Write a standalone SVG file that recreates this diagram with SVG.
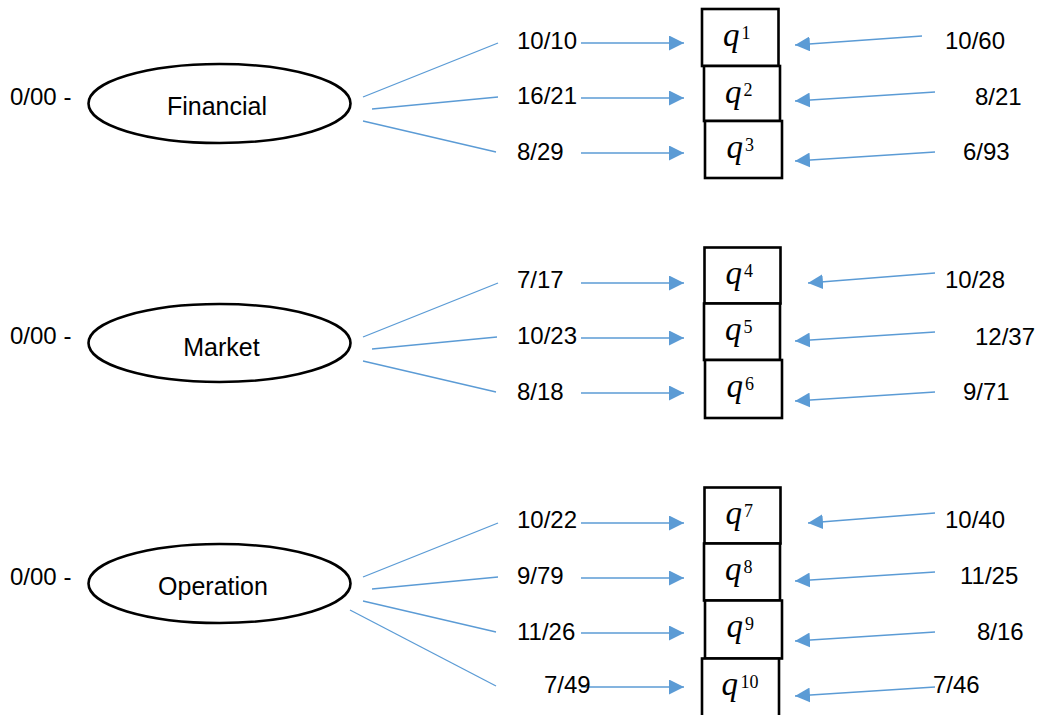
<svg xmlns="http://www.w3.org/2000/svg" width="1039" height="715" viewBox="0 0 1039 715">
  <style>
    .lbl { font-family: "Liberation Sans", Arial, sans-serif; font-size: 24px; fill: #000; }
    .nodeTxt { font-family: "Liberation Sans", Arial, sans-serif; font-size: 25px; fill: #000; text-anchor: middle; }
    .oval { fill: #fff; stroke: #000; stroke-width: 2.6; }
    .box { fill: #fff; stroke: #000; stroke-width: 2.6; }
    .q { font-family: "Liberation Serif", "Times New Roman", serif; font-style: italic; font-size: 33px; fill: #000; }
    .sup { font-family: "Liberation Serif", "Times New Roman", serif; font-size: 18px; fill: #000; }
    .branch { stroke: #5B9BD5; stroke-width: 1.3; fill: none; }
    .arrow { stroke: #5B9BD5; stroke-width: 1.6; fill: none; marker-end: url(#head); }
  </style>
  <defs>
    <marker id="head" markerUnits="userSpaceOnUse" markerWidth="15" markerHeight="15" refX="15" refY="7.5" orient="auto">
      <path d="M0,0 L15,7.5 L0,15 z" fill="#5B9BD5"/>
    </marker>
  </defs>
  <rect width="1039" height="715" fill="#fff"/>

  <!-- connectors: branches from each criterion and arrows into each q box -->
  <g id="connectors">
    <!-- Financial -->
    <line class="branch" x1="363" y1="97" x2="498" y2="43"/>
    <line class="branch" x1="372" y1="109" x2="498" y2="97"/>
    <line class="branch" x1="363" y1="121" x2="496" y2="152"/>
    <line class="arrow" x1="581" y1="43" x2="684" y2="43"/>
    <line class="arrow" x1="581" y1="98" x2="684" y2="98"/>
    <line class="arrow" x1="581" y1="153" x2="684" y2="153"/>
    <line class="arrow" x1="922" y1="36" x2="795" y2="45"/>
    <line class="arrow" x1="935" y1="92" x2="795" y2="101"/>
    <line class="arrow" x1="935" y1="152" x2="795" y2="161"/>
    <!-- Market -->
    <line class="branch" x1="363" y1="337" x2="498" y2="283"/>
    <line class="branch" x1="372" y1="349" x2="497" y2="337"/>
    <line class="branch" x1="363" y1="361" x2="496" y2="392"/>
    <line class="arrow" x1="581" y1="283" x2="684" y2="283"/>
    <line class="arrow" x1="581" y1="338" x2="684" y2="338"/>
    <line class="arrow" x1="581" y1="393" x2="684" y2="393"/>
    <line class="arrow" x1="935" y1="273" x2="808" y2="283"/>
    <line class="arrow" x1="935" y1="332" x2="795" y2="341"/>
    <line class="arrow" x1="935" y1="392" x2="795" y2="401"/>
    <!-- Operation -->
    <line class="branch" x1="363" y1="577" x2="498" y2="523"/>
    <line class="branch" x1="372" y1="589" x2="498" y2="577"/>
    <line class="branch" x1="363" y1="601" x2="496" y2="632"/>
    <line class="branch" x1="350" y1="610" x2="496" y2="686"/>
    <line class="arrow" x1="581" y1="523" x2="684" y2="523"/>
    <line class="arrow" x1="581" y1="578" x2="684" y2="578"/>
    <line class="arrow" x1="581" y1="633" x2="684" y2="633"/>
    <line class="arrow" x1="581" y1="687" x2="684" y2="687"/>
    <line class="arrow" x1="935" y1="513" x2="808" y2="523"/>
    <line class="arrow" x1="935" y1="572" x2="795" y2="581"/>
    <line class="arrow" x1="935" y1="632" x2="795" y2="641"/>
    <line class="arrow" x1="935" y1="687" x2="795" y2="696"/>
  </g>

  <!-- connector values -->
  <g id="labels" class="lbl">
    <text x="10" y="105">0/00 -</text>
    <text x="10" y="344">0/00 -</text>
    <text x="10" y="585">0/00 -</text>

    <text x="517" y="49">10/10</text>
    <text x="517" y="104">16/21</text>
    <text x="517" y="160">8/29</text>
    <text x="945" y="49">10/60</text>
    <text x="975" y="105">8/21</text>
    <text x="963" y="160">6/93</text>

    <text x="517" y="288">7/17</text>
    <text x="517" y="344">10/23</text>
    <text x="517" y="400">8/18</text>
    <text x="945" y="288">10/28</text>
    <text x="975" y="345">12/37</text>
    <text x="963" y="400">9/71</text>

    <text x="517" y="528">10/22</text>
    <text x="517" y="584">9/79</text>
    <text x="517" y="640">11/26</text>
    <text x="544" y="693">7/49</text>
    <text x="945" y="528">10/40</text>
    <text x="960" y="584">11/25</text>
    <text x="977" y="640">8/16</text>
    <text x="933" y="693">7/46</text>
  </g>

  <!-- criteria -->
  <g id="financial">
    <ellipse class="oval" cx="219.5" cy="103.5" rx="131" ry="39.5"/>
    <text class="nodeTxt" x="217" y="115">Financial</text>
  </g>
  <g id="market">
    <ellipse class="oval" cx="219.5" cy="343" rx="131" ry="39"/>
    <text class="nodeTxt" x="221.5" y="356">Market</text>
  </g>
  <g id="operation">
    <ellipse class="oval" cx="219.5" cy="583.5" rx="131" ry="39.5"/>
    <text class="nodeTxt" x="213" y="595">Operation</text>
  </g>

  <!-- sub-criteria boxes -->
  <g id="q1">
    <rect class="box" x="702" y="9" width="76.5" height="57"/>
    <text class="q" x="723" y="45.5">q</text><text class="sup" x="741.5" y="38.5">1</text>
  </g>
  <g id="q2">
    <rect class="box" x="704" y="66" width="76" height="55"/>
    <text class="q" x="725" y="102.5">q</text><text class="sup" x="743.5" y="95.5">2</text>
  </g>
  <g id="q3">
    <rect class="box" x="705" y="121" width="77" height="57"/>
    <text class="q" x="726.5" y="157.5">q</text><text class="sup" x="745" y="150.5">3</text>
  </g>
  <g id="q4">
    <rect class="box" x="704.5" y="247.5" width="76" height="56"/>
    <text class="q" x="725.5" y="284">q</text><text class="sup" x="744" y="277">4</text>
  </g>
  <g id="q5">
    <rect class="box" x="704" y="303.5" width="76" height="56.5"/>
    <text class="q" x="725" y="340">q</text><text class="sup" x="743.5" y="333">5</text>
  </g>
  <g id="q6">
    <rect class="box" x="705" y="360" width="77" height="58"/>
    <text class="q" x="726.5" y="396.5">q</text><text class="sup" x="745" y="389.5">6</text>
  </g>
  <g id="q7">
    <rect class="box" x="704.5" y="487.5" width="76" height="56"/>
    <text class="q" x="725.5" y="524">q</text><text class="sup" x="744" y="517">7</text>
  </g>
  <g id="q8">
    <rect class="box" x="704" y="543.5" width="76" height="57"/>
    <text class="q" x="725" y="580">q</text><text class="sup" x="743.5" y="573">8</text>
  </g>
  <g id="q9">
    <rect class="box" x="705" y="600.5" width="77" height="58"/>
    <text class="q" x="726.5" y="637">q</text><text class="sup" x="745" y="630">9</text>
  </g>
  <g id="q10">
    <rect class="box" x="702" y="658.5" width="77" height="60"/>
    <text class="q" x="721.5" y="695">q</text><text class="sup" x="740.5" y="688">10</text>
  </g>
</svg>
